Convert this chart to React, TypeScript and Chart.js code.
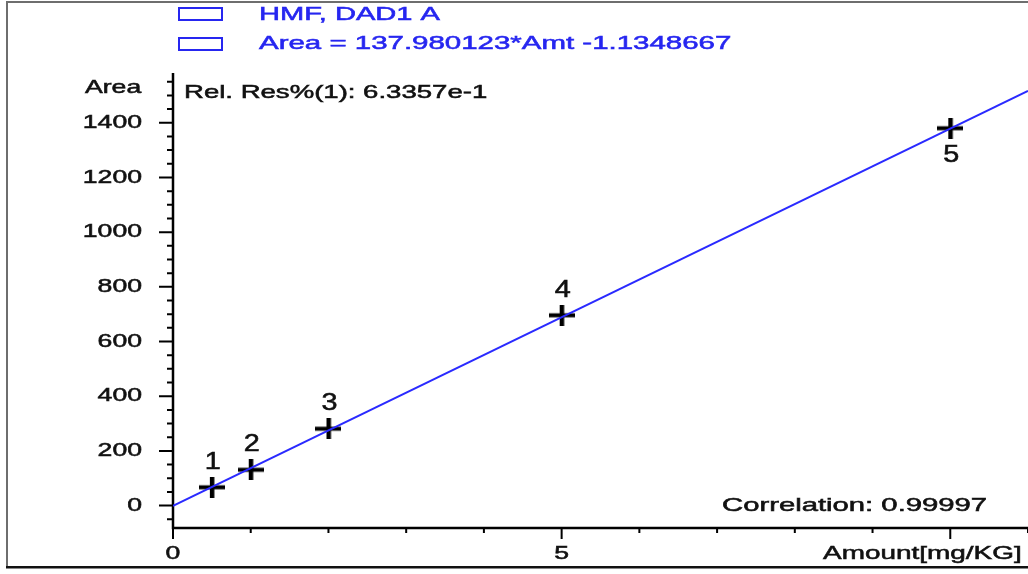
import React, { useEffect, useRef } from "react";
import { Chart, registerables } from "chart.js";

Chart.register(...registerables);

// Calibration standards (amount in mg/KG, measured peak area)
const amounts = [0.5, 1, 2, 5, 10];
const areas = [67, 131, 281, 696, 1380];
const levelLabels = ["1", "2", "3", "4", "5"];
const levelLabelAbove = [true, true, true, true, false];

// Linear fit stated in the legend
const slope = 137.980123;
const intercept = -1.1348667;

// Axis ranges and tick values
const xMin = 0;
const xMax = 11;
const yMin = -82;
const yMax = 1582;
const xMajorTicks = [0, 5, 10];
const xTickLabels = ["0", "5"];
const yMajorTicks = [0, 200, 400, 600, 800, 1000, 1200, 1400];
const yTickLabels = ["0", "200", "400", "600", "800", "1000", "1200", "1400"];
const xMinorStep = 1;
const yMinorStep = 50;

const legendLines = ["HMF, DAD1 A", "Area = 137.980123*Amt -1.1348667"];
const residualText = "Rel. Res%(1): 6.3357e-1";
const correlationText = "Correlation: 0.99997";
const yAxisTitle = "Area";
const xAxisTitle = "Amount[mg/KG]";

const BLUE = "#2626f0";
const FONT = '"Liberation Sans", Arial, sans-serif';

function stretchText(
  ctx: CanvasRenderingContext2D,
  text: string,
  x: number,
  y: number,
  align: CanvasTextAlign,
  size: number,
  sx: number,
  color: string
) {
  ctx.save();
  ctx.translate(x, y);
  ctx.scale(sx, 1);
  ctx.font = `${size}px ${FONT}`;
  ctx.fillStyle = color;
  ctx.strokeStyle = color;
  ctx.lineWidth = 0.55;
  ctx.textAlign = align;
  ctx.textBaseline = "middle";
  ctx.fillText(text, 0, 0);
  ctx.strokeText(text, 0, 0);
  ctx.restore();
}

function makeCross(): HTMLCanvasElement {
  const c = document.createElement("canvas");
  c.width = 26;
  c.height = 21;
  const g = c.getContext("2d")!;
  g.fillStyle = "#000";
  g.fillRect(0, 8.5, 26, 4);
  g.fillRect(11, 0, 4.5, 21);
  return c;
}

const decorPlugin = {
  id: "decor",
  beforeDraw(chart: any) {
    const ctx: CanvasRenderingContext2D = chart.ctx;
    const W = chart.width;
    const H = chart.height;
    ctx.save();
    ctx.fillStyle = "#fff";
    ctx.fillRect(0, 0, W, H);
    // outer frame
    ctx.fillStyle = "#6e6e6e";
    ctx.fillRect(6, 1, 2, H - 7);
    ctx.fillRect(6, 1, W - 6, 2);
    ctx.fillStyle = "#111";
    ctx.fillRect(6, H - 8, W - 6, 2.5);
    ctx.restore();
  },
  beforeDatasetsDraw(chart: any) {
    const ctx: CanvasRenderingContext2D = chart.ctx;
    const xs = chart.scales.x;
    const ys = chart.scales.y;
    const a = chart.chartArea;
    const x0 = xs.getPixelForValue(xMin);
    const yb = ys.getPixelForValue(yMin);
    ctx.save();
    ctx.strokeStyle = "#000";
    ctx.lineWidth = 2.5;
    ctx.beginPath();
    ctx.moveTo(x0, a.top);
    ctx.lineTo(x0, yb);
    ctx.lineTo(a.right + 2, yb);
    ctx.stroke();

    ctx.lineWidth = 2;
    ctx.beginPath();
    // y ticks
    for (let v = Math.ceil(yMin / yMinorStep) * yMinorStep; v <= yMax; v += yMinorStep) {
      const py = ys.getPixelForValue(v);
      const major = yMajorTicks.includes(v);
      ctx.moveTo(x0 - (major ? 14 : 6), py);
      ctx.lineTo(x0, py);
    }
    // x ticks
    for (let v = xMin; v <= xMax; v += xMinorStep) {
      const px = xs.getPixelForValue(v);
      const major = xMajorTicks.includes(v);
      ctx.moveTo(px, yb);
      ctx.lineTo(px, yb + (major ? 11 : 5));
    }
    ctx.stroke();
    ctx.restore();
  },
  afterDatasetsDraw(chart: any) {
    const ctx: CanvasRenderingContext2D = chart.ctx;
    const xs = chart.scales.x;
    const ys = chart.scales.y;
    const x0 = xs.getPixelForValue(xMin);
    const yb = ys.getPixelForValue(yMin);

    // tick labels
    yMajorTicks.forEach((v, i) => {
      stretchText(ctx, yTickLabels[i], x0 - 31, ys.getPixelForValue(v), "right", 19, 1.4, "#111");
    });
    xTickLabels.forEach((t, i) => {
      stretchText(ctx, t, xs.getPixelForValue(xMajorTicks[i]), yb + 26, "center", 19, 1.4, "#111");
    });

    // titles and annotations
    stretchText(ctx, yAxisTitle, 85, 88, "left", 19, 1.4, "#111");
    stretchText(ctx, xAxisTitle, 823, yb + 26, "left", 19, 1.47, "#111");
    stretchText(ctx, residualText, 184, 93, "left", 19, 1.45, "#111");
    stretchText(ctx, correlationText, 722, 506, "left", 19, 1.54, "#111");

    // legend
    ctx.save();
    ctx.strokeStyle = BLUE;
    ctx.lineWidth = 2;
    ctx.strokeRect(179, 8, 43, 12);
    ctx.strokeRect(179, 38, 43, 12);
    ctx.restore();
    stretchText(ctx, legendLines[0], 259, 15, "left", 19, 1.53, BLUE);
    stretchText(ctx, legendLines[1], 259, 44, "left", 19, 1.55, BLUE);

    // level numbers next to each standard
    const meta = chart.getDatasetMeta(1);
    meta.data.forEach((pt: any, i: number) => {
      const dy = levelLabelAbove[i] ? -25 : 27;
      stretchText(ctx, levelLabels[i], pt.x + 1, pt.y + dy, "center", 23, 1.25, "#111");
    });
  },
};

export default function App() {
  const ref = useRef<HTMLCanvasElement | null>(null);

  useEffect(() => {
    if (!ref.current) return;
    const cross = makeCross();
    const fitLine = [
      { x: xMin, y: slope * xMin + intercept },
      { x: xMax, y: slope * xMax + intercept },
    ];
    const standards = amounts.map((x, i) => ({ x, y: areas[i] }));

    const chart = new Chart(ref.current, {
      type: "scatter",
      data: {
        datasets: [
          {
            data: fitLine,
            showLine: true,
            borderColor: "#2a2aff",
            borderWidth: 2,
            pointRadius: 0,
          },
          {
            data: standards,
            pointStyle: cross as any,
            pointRadius: 12,
          },
        ],
      },
      options: {
        animation: false,
        responsive: false,
        devicePixelRatio: 1,
        layout: { autoPadding: false, padding: { left: 173, top: 73, right: 0, bottom: 46 } },
        plugins: { legend: { display: false }, tooltip: { enabled: false } },
        scales: {
          x: { type: "linear", min: xMin, max: xMax, display: false },
          y: { type: "linear", min: yMin, max: yMax, display: false },
        },
      },
      plugins: [decorPlugin],
    });
    return () => chart.destroy();
  }, []);

  return (
    <div style={{ position: "fixed", left: 0, top: 0, width: 1028, height: 574 }}>
      <canvas ref={ref} width={1028} height={574} />
    </div>
  );
}
